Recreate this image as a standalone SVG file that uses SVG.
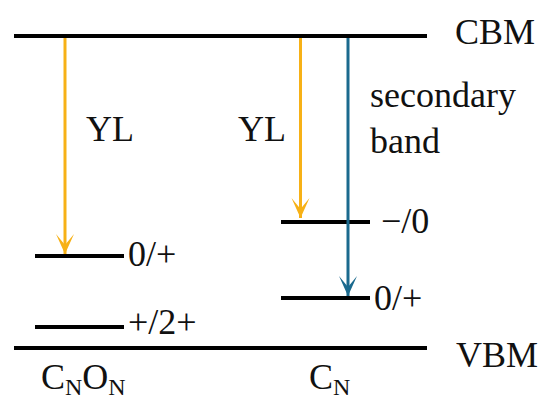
<svg xmlns="http://www.w3.org/2000/svg" width="545" height="400" viewBox="0 0 545 400" font-family="Liberation Serif, Times New Roman, Times, DejaVu Serif, serif">
<style>
text{font-size:36px;fill:#111}
.band{stroke:#000;stroke-width:4}
.lvl{stroke:#000;stroke-width:4}
.sub{font-size:24px}
</style>
<defs>
<marker id="ao" markerUnits="userSpaceOnUse" markerWidth="24" markerHeight="24" viewBox="-12 -22 24 24" refX="0" refY="0" orient="auto-start-reverse" overflow="visible">
<path d="M0,0 L-9,-20 L0,-9 L9,-20 Z" fill="#F7B116" transform="rotate(-90)"/>
</marker>
<marker id="ab" markerUnits="userSpaceOnUse" markerWidth="24" markerHeight="24" viewBox="-12 -22 24 24" refX="0" refY="0" orient="auto-start-reverse" overflow="visible">
<path d="M0,0 L-9,-20 L0,-9 L9,-20 Z" fill="#1B6A8E" transform="rotate(-90)"/>
</marker>
</defs>
<rect width="545" height="400" fill="#fff"/>
<g id="cbm"><line class="band" x1="14" y1="36" x2="427" y2="36"/><text x="455" y="44">CBM</text></g>
<g id="vbm"><line class="band" x1="14" y1="348" x2="427" y2="348"/><text x="456" y="367">VBM</text></g>
<g id="cnon-0p"><line class="lvl" x1="35" y1="256" x2="124" y2="256"/><text x="128" y="266">0/+</text></g>
<g id="cnon-p2p"><line class="lvl" x1="35" y1="327" x2="124" y2="327"/><text x="128" y="334">+/2+</text></g>
<g id="cn-m0"><line class="lvl" x1="281" y1="222" x2="370" y2="222"/><text x="381" y="233">−/0</text></g>
<g id="cn-0p"><line class="lvl" x1="281" y1="298" x2="370" y2="298"/><text x="374" y="310">0/+</text></g>
<g id="labels">
<text x="86" y="141">YL</text>
<text x="238" y="141">YL</text>
<text x="370" y="107">secondary</text>
<text x="370" y="153">band</text>
<text x="41" y="389">C<tspan class="sub" dy="6">N</tspan><tspan dy="-6">O</tspan><tspan class="sub" dy="6">N</tspan></text>
<text x="309" y="389">C<tspan class="sub" dy="6">N</tspan></text>
</g>
<g id="connectors" fill="none" stroke-width="3">
<line x1="65" y1="38" x2="65" y2="254" stroke="#F7B116" marker-end="url(#ao)"/>
<line x1="300.5" y1="38" x2="300.5" y2="218" stroke="#F7B116" marker-end="url(#ao)"/>
<line x1="348" y1="38" x2="348" y2="296" stroke="#1B6A8E" marker-end="url(#ab)"/>
</g>
</svg>
